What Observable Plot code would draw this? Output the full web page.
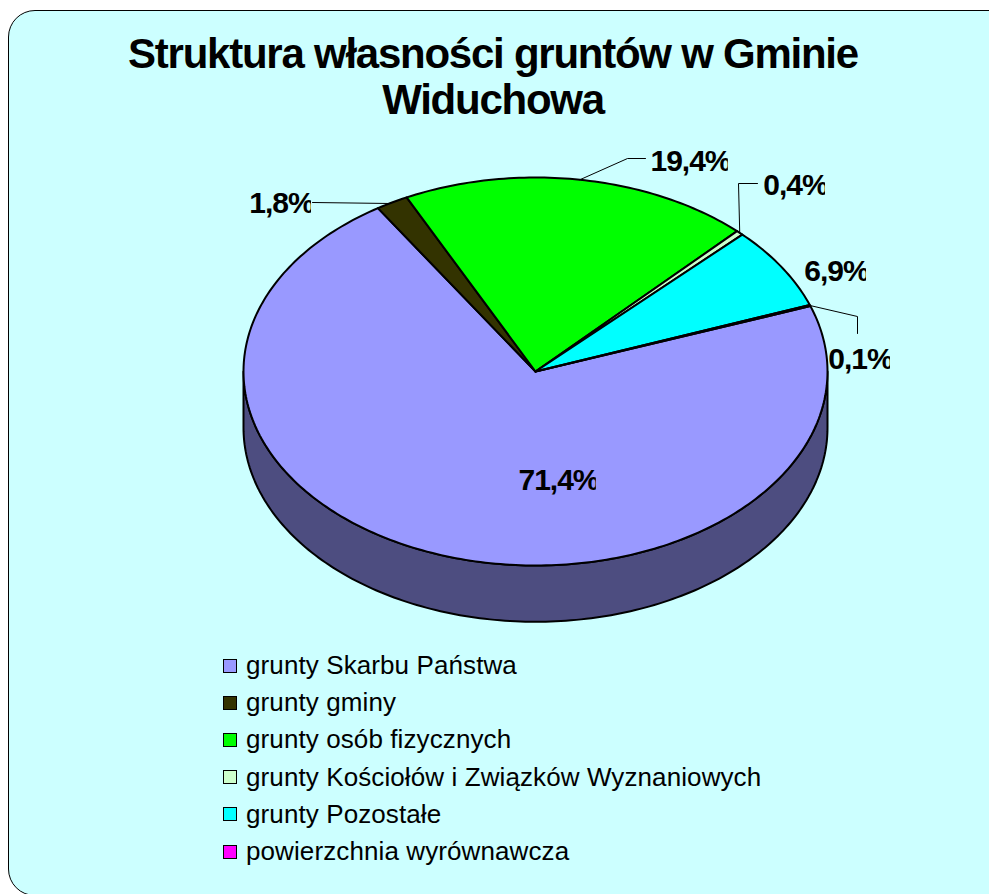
<!DOCTYPE html>
<html lang="pl">
<head>
<meta charset="utf-8">
<script src="https://cdn.jsdelivr.net/npm/d3@7"></script>
<script src="https://cdn.jsdelivr.net/npm/@observablehq/plot@0.6"></script>
<style>
html,body{margin:0;padding:0;background:#fff;width:989px;height:894px;overflow:hidden;font-family:"Liberation Sans",Arial,sans-serif}
#card{position:absolute;left:8px;top:10px;width:1030px;height:886px;box-sizing:border-box;background:#CCFFFF;border:1.5px solid #000;border-radius:27px}
#title{position:absolute;left:0;top:31px;width:986px;text-align:center;font-weight:bold;font-size:42px;line-height:46px;letter-spacing:-1.25px;color:#000;margin:0}
#chart{position:absolute;left:0;top:130px}
#chart svg{background:transparent;display:block}
#legend{position:absolute;left:223px;top:647px;margin:0;padding:0;list-style:none}
#legend li{display:flex;align-items:center;height:37.2px;font-size:26px;letter-spacing:0.1px;color:#000;white-space:nowrap}
#legend i{display:block;width:12px;height:12px;border:1.5px solid #000;margin-right:9px}
</style>
</head>
<body>
<div id="card"></div>
<h1 id="title">Struktura własności gruntów w Gminie<br>Widuchowa</h1>
<div id="chart"></div>
<ul id="legend"></ul>
<script>
const categories = ["grunty Skarbu Państwa","grunty gminy","grunty osób fizycznych","grunty Kościołów i Związków Wyznaniowych","grunty Pozostałe","powierzchnia wyrównawcza"];
const shares = [71.4,1.8,19.4,0.4,6.9,0.1];
const shareLabels = ["71,4%","1,8%","19,4%","0,4%","6,9%","0,1%"];
const palette = ["#9999FF","#333300","#00FF00","#CCFFCC","#00FFFF","#FF00FF"];
const sideColor = "#4D4D80";
const firstAngle = 70.3;

// Pie geometry, in units of the pie's radius.
const depth = 0.29;
const total = d3.sum(shares);
let acc = firstAngle;
const slices = shares.map((v,i)=>{
  const a0 = acc, a1 = acc + v/total*360; acc = a1;
  return {name:categories[i],label:shareLabels[i],color:palette[i],a0,a1,mid:(a0+a1)/2};
});
const px = a => Math.sin(a*Math.PI/180), py = a => Math.cos(a*Math.PI/180);
const slicePts = slices.flatMap(s=>{
  const pts=[{name:s.name,color:s.color,x:0,y:0}];
  const n=Math.max(2,Math.ceil((s.a1-s.a0)));
  for(let k=0;k<=n;k++){const a=s.a0+(s.a1-s.a0)*k/n;pts.push({name:s.name,color:s.color,x:px(a),y:py(a)});}
  pts.push({name:s.name,color:s.color,x:0,y:0});
  return pts;
});
const sidePts=[];
for(let a=90;a<=270;a++) sidePts.push({x:px(a),y:py(a)-depth});
for(let a=270;a>=90;a--) sidePts.push({x:px(a),y:py(a)});
sidePts.push(sidePts[0]);

// Pixel-to-pie conversion for the label placement.
const X = p => (p-535)/292, Y = p => (371-p)/194;
const anchorOf = name => { const s=slices.find(d=>d.label===name); return {x:px(s.mid),y:py(s.mid)}; };
const leaders = [
  ["1,8%",[[390,203],[312,202]]],
  ["19,4%",[[627,158],[645,158]]],
  ["0,4%",[[738,183],[757,183]]],
  ["0,1%",[[857,316],[857,333]]]
].flatMap(([lab,rest])=>[anchorOf(lab),...rest.map(([a,b])=>({x:X(a),y:Y(b)}))].map(p=>({...p,lab})));
const labelPos = [
  ["71,4%",558,480],["1,8%",281,203],["19,4%",690,161],["0,4%",795,185],["6,9%",836,271],["0,1%",860,359]
].map(([label,a,b])=>({label,x:X(a),y:Y(b)}));

const top0=130;
const plot = Plot.plot({
  width:989,height:510,margin:0,
  x:{domain:[-1,1],range:[243,827],axis:null},
  y:{domain:[-1,1],range:[565-top0,177-top0],axis:null},
  style:{background:"transparent",overflow:"visible"},
  marks:[
    Plot.line(sidePts,{x:"x",y:"y",fill:sideColor,stroke:"#000",strokeWidth:2,curve:"linear"}),
    Plot.line(slicePts,{x:"x",y:"y",z:"name",fill:"color",stroke:"#000",strokeWidth:2,curve:"linear",strokeLinejoin:"round"}),
    Plot.line(leaders,{x:"x",y:"y",z:"lab",stroke:"#000",strokeWidth:1,curve:"linear"}),
    Plot.text(labelPos,{x:"x",y:"y",text:"label",fill:"#000",fontSize:30,fontWeight:"bold",fontFamily:"Liberation Sans, Arial, sans-serif",textAnchor:"middle",lineAnchor:"middle"})
  ]
});
document.getElementById("chart").append(plot);
d3.select(plot).selectAll("text").style("letter-spacing","-1px").style("clip-path","inset(0 3px 0 0)");

const ul=d3.select("#legend");
categories.forEach((c,i)=>{
  const li=ul.append("li");
  li.append("i").style("background",palette[i]);
  li.append("span").text(c);
});
</script>
</body>
</html>
